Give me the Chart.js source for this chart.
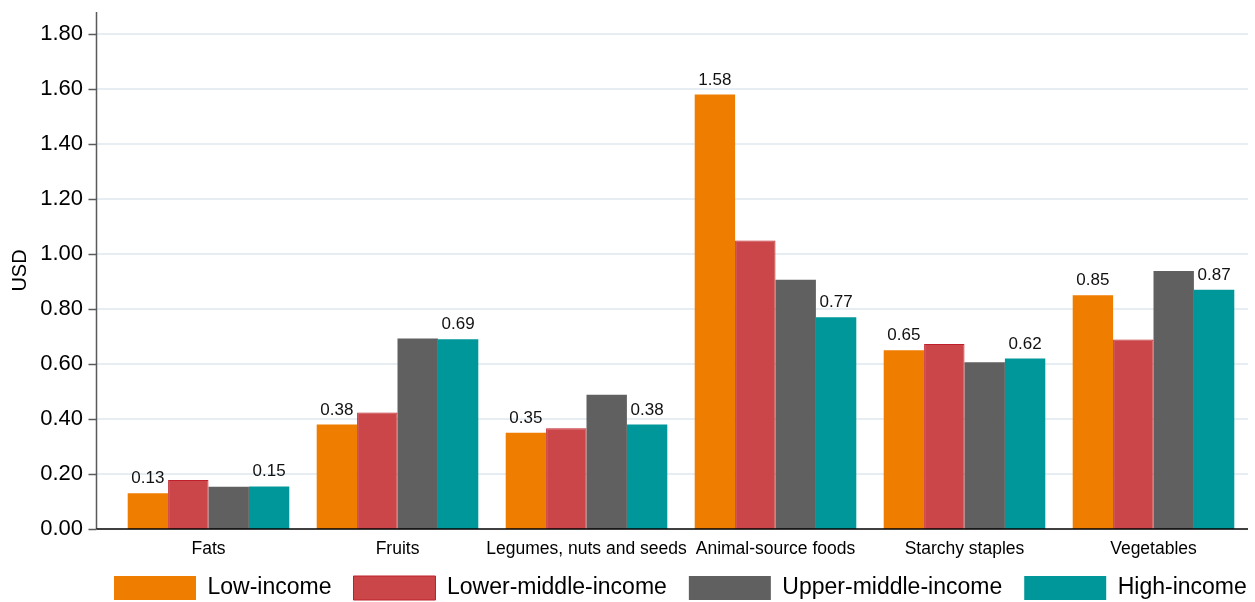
<!DOCTYPE html>
<html>
<head>
<meta charset="utf-8">
<script src="https://cdn.jsdelivr.net/npm/chart.js@4.4.1/dist/chart.umd.min.js"></script>
<style>
    html, body { margin: 0; padding: 0; background: #fff; }
    #wrap { width: 1255px; height: 602px; }
</style>
</head>
<body>
<div id="wrap"><canvas id="foodChart"></canvas></div>
<script>
// データ
const categories = ['Fats', 'Fruits', 'Legumes, nuts and seeds', 'Animal-source foods', 'Starchy staples', 'Vegetables'];
const lowIncome = [0.13, 0.38, 0.35, 1.58, 0.65, 0.85];
const lowerMiddleIncome = [0.178, 0.424, 0.366, 1.049, 0.673, 0.689];
const upperMiddleIncome = [0.154, 0.693, 0.488, 0.906, 0.606, 0.938];
const highIncome = [0.155, 0.69, 0.38, 0.77, 0.62, 0.87];
const yTicks = [0, 0.2, 0.4, 0.6, 0.8, 1.0, 1.2, 1.4, 1.6, 1.8];

const FONT = "'Liberation Sans', Arial, sans-serif";
const LEGEND_PAD = 22;
const PLOT_BOTTOM = 529;
Chart.defaults.font.family = FONT;
Chart.defaults.color = '#000';

// 軸線・グリッド線（y軸は棒グループより左にずれている）
const axisPlugin = {
    id: 'axisPlugin',
    afterLayout(chart) {
        // 凡例をプロット左端に揃え、下に寄せる
        const lg = chart.legend;
        lg.left = chart.chartArea.left - LEGEND_PAD;
        lg.right = chart.width + 60;
        lg.top = 576 - LEGEND_PAD;
        lg.bottom = lg.top + lg.height;
    },
    beforeDatasetsDraw(chart) {
        const { ctx, chartArea, scales } = chart;
        const axisX = chartArea.left - 17;
        ctx.save();
        ctx.strokeStyle = '#e7eef3';
        ctx.lineWidth = 2;
        yTicks.forEach(v => {
            if (v === 0) return;
            const y = Math.round(scales.y.getPixelForValue(v));
            ctx.beginPath();
            ctx.moveTo(axisX, y);
            ctx.lineTo(chartArea.right, y);
            ctx.stroke();
        });
        ctx.restore();
    },
    afterDatasetsDraw(chart) {
        const { ctx, chartArea, scales } = chart;
        const axisX = chartArea.left - 17.5;
        ctx.save();
        ctx.strokeStyle = '#5a5a5a';
        ctx.lineWidth = 1.5;
        ctx.beginPath();
        ctx.moveTo(axisX, chartArea.top);
        ctx.lineTo(axisX, chartArea.bottom);
        ctx.stroke();
        yTicks.forEach(v => {
            const y = Math.round(scales.y.getPixelForValue(v)) + 0.5;
            ctx.beginPath();
            ctx.moveTo(axisX - 8, y);
            ctx.lineTo(axisX, y);
            ctx.stroke();
        });
        ctx.strokeStyle = '#000';
        ctx.beginPath();
        ctx.moveTo(axisX, chartArea.bottom);
        ctx.lineTo(chartArea.right, chartArea.bottom);
        ctx.stroke();

        // 数値ラベル（低所得・高所得のみ）
        ctx.font = '17px ' + FONT;
        ctx.fillStyle = '#111';
        ctx.textAlign = 'center';
        ctx.textBaseline = 'alphabetic';
        [0, 3].forEach(di => {
            const meta = chart.getDatasetMeta(di);
            const values = chart.data.datasets[di].data;
            meta.data.forEach((bar, i) => {
                ctx.fillText(values[i].toFixed(2), bar.x, bar.y - 10);
            });
        });
        ctx.restore();
    }
};

new Chart(document.getElementById('foodChart'), {
    type: 'bar',
    data: {
        labels: categories,
        datasets: [{
            label: 'Low-income',
            data: lowIncome,
            backgroundColor: '#ef7d00',
            borderColor: '#ef7d00',
            borderWidth: 0
        }, {
            label: 'Lower-middle-income',
            data: lowerMiddleIncome,
            backgroundColor: '#cb4649',
            borderColor: '#c0202b',
            borderWidth: 1
        }, {
            label: 'Upper-middle-income',
            data: upperMiddleIncome,
            backgroundColor: '#606060',
            borderColor: '#606060',
            borderWidth: 0
        }, {
            label: 'High-income',
            data: highIncome,
            backgroundColor: '#00979a',
            borderColor: '#00979a',
            borderWidth: 0
        }]
    },
    options: {
        responsive: true,
        maintainAspectRatio: false,
        animation: false,
        datasets: {
            bar: { barPercentage: 1.0, categoryPercentage: 0.855 }
        },
        layout: {
            padding: { left: 0, right: 7, top: 12, bottom: -40 }
        },
        plugins: {
            legend: {
                display: true,
                position: 'bottom',
                align: 'start',
                labels: {
                    boxWidth: 82,
                    boxHeight: 24,
                    padding: LEGEND_PAD,
                    color: '#000',
                    font: { size: 23, family: FONT }
                }
            },
            tooltip: { enabled: false }
        },
        scales: {
            x: {
                grid: { display: false, drawTicks: false },
                border: { display: false },
                afterFit(scale) {
                    // プロット下端を固定する
                    scale.height = 602 + 40 - PLOT_BOTTOM - scale.chart.legend.height;
                },
                ticks: {
                    padding: 10,
                    maxRotation: 0,
                    autoSkip: false,
                    color: '#000',
                    font: { size: 17.5 }
                }
            },
            y: {
                min: 0,
                max: 1.88,
                grid: { display: false, drawTicks: false },
                border: { display: false },
                afterFit(scale) {
                    scale.width = 114;
                    scale.paddingTop = 0;
                    scale.paddingBottom = 0;
                },
                afterBuildTicks(scale) { scale.ticks = yTicks.map(v => ({ value: v })); },
                ticks: {
                    padding: 31,
                    color: '#000',
                    font: { size: 22 },
                    callback: v => v.toFixed(2)
                },
                title: {
                    display: true,
                    text: 'USD',
                    color: '#000',
                    font: { size: 20 },
                    padding: { top: 8, bottom: 0 }
                }
            }
        }
    },
    plugins: [axisPlugin]
});
</script>
</body>
</html>
